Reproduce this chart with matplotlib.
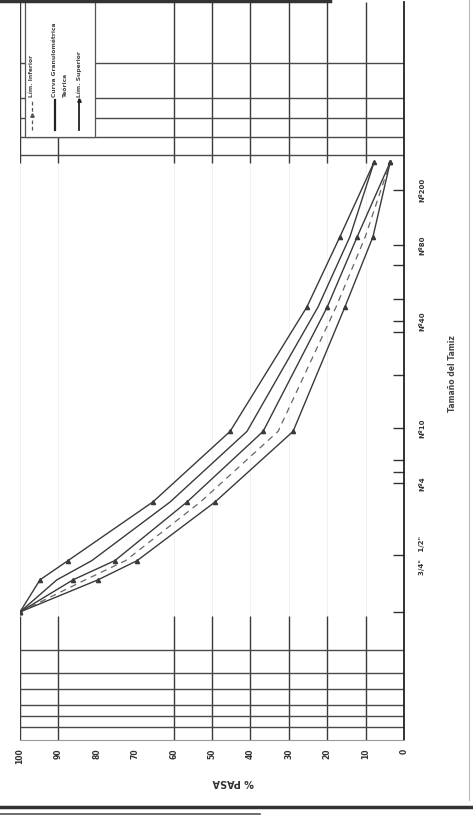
import matplotlib
matplotlib.use('Agg')
import matplotlib.pyplot as plt
from matplotlib.lines import Line2D
from matplotlib.patches import Rectangle

# valores (hoja escaneada, girada 90 grados)
tamiz_mm = [25.4, 16.3, 12.5, 5.56, 2.1, 0.377, 0.143, 0.051]
lim_superior = [100, 94.8, 87.5, 65.4, 45.3, 25.3, 16.7, 7.8]
curva_teorica = [100, 90.4, 81.3, 60.9, 40.9, 22.4, 14.1, 7.8]
curva_real = [100, 86.2, 75.3, 56.5, 36.7, 20.0, 12.2, 3.6]
curva_media = [100, 83.0, 72.5, 53.0, 32.8, 17.7, 10.1, 3.6]
lim_inferior = [100, 79.7, 69.5, 49.2, 28.9, 15.4, 8.1, 3.6]

pasa_ticks = [100, 90, 80, 70, 60, 50, 40, 30, 20, 10, 0]
tamiz_ticks = [0.075, 0.16, 0.21, 0.34, 0.46, 0.53, 0.96, 2.0, 3.1, 3.7, 4.3, 11.6, 25.4]
tamiz_labels = ['Nº200', 'Nº80', '', '', 'Nº40', '', '', 'Nº10', '', '', 'Nº4', '3/4"   1/2"', '']

# rejilla de las bandas superior e inferior
grid_pasa = [100, 90, 60, 50, 40, 30, 20, 10]
banda_inf_mm = [43, 59, 74, 92, 107, 125]
banda_sup_mm = [0.0463, 0.0361, 0.0278, 0.0211, 0.013]

ink = '#3a3a3a'

fig = plt.figure(figsize=(4.73, 8.19), dpi=100)
fig.patch.set_facecolor('white')
ax = fig.add_axes([0.0423, 0.0965, 0.812, 0.9011])

ax.set_yscale('log')
ax.set_xlim(100, 0)
ax.set_ylim(148.6, 0.0056)

# rejilla
for p in grid_pasa:
    ax.vlines(p, 0.05, 27, color='#999', lw=0.6, alpha=0.15, zorder=1)
    ax.vlines(p, 27, 148.6, color=ink, lw=1.0, zorder=1)
    ax.vlines(p, 0.0056, 0.052, color=ink, lw=1.0, zorder=1)
for d in banda_inf_mm:
    ax.hlines(d, 100, 0, color='#4a4a4a', lw=1.0, zorder=1)
for d in banda_sup_mm:
    ax.hlines(d, 100, 0, color='#4a4a4a', lw=1.0, zorder=1)

# curvas
ax.plot(lim_superior, tamiz_mm, color=ink, lw=1.0, marker='^', ms=3, zorder=3)
ax.plot(curva_teorica, tamiz_mm, color=ink, lw=1.0, zorder=3)
ax.plot(curva_real, tamiz_mm, color=ink, lw=1.0, marker='^', ms=3, zorder=3)
ax.plot(curva_media, tamiz_mm, color='#666', lw=0.9, ls=(0, (5, 4)), zorder=3)
ax.plot(lim_inferior, tamiz_mm, color=ink, lw=1.0, marker='^', ms=3, zorder=3)

# ejes
for s in ['left', 'top']:
    ax.spines[s].set_visible(False)
ax.spines['right'].set_color('#222')
ax.spines['right'].set_linewidth(1.3)
ax.spines['bottom'].set_color('#999')
ax.spines['bottom'].set_linewidth(0.8)

ax.set_xticks(pasa_ticks)
ax.set_xticklabels([str(v) for v in pasa_ticks], rotation=90, fontsize=5.5,
                   fontweight='bold', color='#333')
ax.tick_params(axis='x', length=0, pad=6)

ax.yaxis.set_ticks_position('right')
ax.yaxis.set_minor_locator(matplotlib.ticker.NullLocator())
ax.set_yticks(tamiz_ticks)
ax.set_yticklabels(tamiz_labels, rotation=90, fontsize=5, fontweight='bold',
                   color='#333', va='center')
ax.tick_params(axis='y', which='major', direction='in', length=8, width=1.0,
               color='#333', pad=11)

ax.text(0.555, -0.057, '% PASA', transform=ax.transAxes, rotation=180,
        ha='center', va='center', fontsize=7, fontweight='bold', color='#333')
ax.text(1.125, 0.497, 'Tamaño del Tamiz', transform=ax.transAxes, rotation=90,
        ha='center', va='center', fontsize=5.5, fontweight='bold', color='#444')

# leyenda (girada, dibujada a mano)
ax.add_patch(Rectangle((0.013, 0.817), 0.182, 0.186, transform=ax.transAxes,
                       facecolor='white', edgecolor='#555', lw=0.9,
                       zorder=5, clip_on=False))
ax.plot([0.031, 0.031], [0.827, 0.867], transform=ax.transAxes, color='#555',
        lw=0.9, ls=(0, (3, 2)), zorder=6, clip_on=False)
ax.plot([0.031], [0.847], transform=ax.transAxes, color='#555', marker='^',
        ms=2.5, zorder=6, clip_on=False)
ax.plot([0.091, 0.091], [0.827, 0.867], transform=ax.transAxes, color='#222',
        lw=1.6, zorder=6, clip_on=False)
ax.plot([0.154, 0.154], [0.827, 0.867], transform=ax.transAxes, color='#222',
        lw=1.3, marker='^', ms=2.5, markevery=[1], zorder=6, clip_on=False)
leg_kw = dict(transform=ax.transAxes, rotation=90, rotation_mode='anchor',
              ha='left', va='center', fontsize=4.3, fontweight='bold',
              color='#444', zorder=7)
ax.text(0.031, 0.871, 'Lím. Inferior', **leg_kw)
ax.text(0.091, 0.871, 'Curva Granulométrica', **leg_kw)
ax.text(0.119, 0.871, 'Teórica', **leg_kw)
ax.text(0.154, 0.871, 'Lím. Superior', **leg_kw)

# bordes de la hoja escaneada
W, H = 473.0, 819.0
fig.add_artist(Line2D([0, 330 / W], [1 - 1 / H, 1 - 1 / H], color='#333', lw=2.5))
fig.add_artist(Line2D([0, 1], [1 - 807 / H, 1 - 807 / H], color='#333', lw=2.5))
fig.add_artist(Line2D([0, 260 / W], [1 - 814 / H, 1 - 814 / H], color='#555', lw=1.2))
fig.add_artist(Line2D([469 / W, 469 / W], [1 - 800 / H, 1], color='#bbb', lw=0.8))

fig.savefig('out.png', dpi=100)
